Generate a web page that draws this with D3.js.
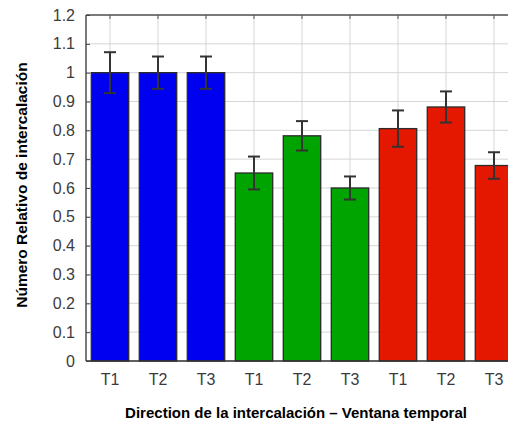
<!DOCTYPE html>
<html>
<head>
<meta charset="utf-8">
<script src="https://cdn.jsdelivr.net/npm/d3@7"></script>
<style>
  body { margin: 0; background: #fff; }
  svg { display: block; }
</style>
</head>
<body>
<script>
// Bar data: three groups (blue, green, red), each with T1..T3
const categories = ["T1", "T2", "T3", "T1", "T2", "T3", "T1", "T2", "T3"];
const values = [1.0, 1.0, 1.0, 0.652, 0.781, 0.600, 0.806, 0.881, 0.678];
const errors = [0.071, 0.056, 0.056, 0.057, 0.051, 0.040, 0.063, 0.054, 0.046];
const groups = [0, 0, 0, 1, 1, 1, 2, 2, 2];
const groupColors = ["#0000f0", "#00a400", "#e41800"];
const yTicks = [0, 0.1, 0.2, 0.3, 0.4, 0.5, 0.6, 0.7, 0.8, 0.9, 1, 1.1, 1.2];

const W = 508, H = 426;
const plotLeft = 86, plotTop = 15, plotBottom = 361;
const step = 48;
const font = "Liberation Sans, Arial, sans-serif";

const svg = d3.select("body").append("svg")
  .attr("width", W)
  .attr("height", H);

// x is position index 1..9, axis spans 0.5..9.5 (cut off on the right)
const x = d3.scaleLinear().domain([0.5, 9.5]).range([plotLeft, plotLeft + 9 * step]);
const y = d3.scaleLinear().domain([0, 1.2]).range([plotBottom, plotTop]);
const barW = 0.78 * step;

const idx = categories.map((c, i) => i + 1);

// grid
svg.append("g")
  .selectAll("line")
  .data(yTicks)
  .enter().append("line")
  .attr("x1", plotLeft).attr("x2", W)
  .attr("y1", d => y(d)).attr("y2", d => y(d))
  .attr("stroke", "#d6d6d6").attr("stroke-width", 1);

svg.append("g")
  .selectAll("line")
  .data(idx)
  .enter().append("line")
  .attr("x1", d => x(d)).attr("x2", d => x(d))
  .attr("y1", plotTop).attr("y2", plotBottom)
  .attr("stroke", "#d6d6d6").attr("stroke-width", 1);

// bars
svg.append("g")
  .selectAll("rect")
  .data(values)
  .enter().append("rect")
  .attr("x", (d, i) => x(i + 1) - barW / 2)
  .attr("y", d => y(d))
  .attr("width", barW)
  .attr("height", d => y(0) - y(d))
  .attr("fill", (d, i) => groupColors[groups[i]])
  .attr("stroke", "#2a2a2a")
  .attr("stroke-width", 1.3);

// error bars
const eb = svg.append("g")
  .attr("stroke", "#333")
  .attr("stroke-width", 2);
values.forEach((v, i) => {
  const cx = x(i + 1);
  eb.append("line")
    .attr("x1", cx).attr("x2", cx)
    .attr("y1", y(v + errors[i])).attr("y2", y(v - errors[i]));
  [v + errors[i], v - errors[i]].forEach(e => {
    eb.append("line")
      .attr("x1", cx - 6).attr("x2", cx + 6)
      .attr("y1", y(e)).attr("y2", y(e));
  });
});

// axes frame
svg.append("line")
  .attr("x1", plotLeft).attr("x2", plotLeft)
  .attr("y1", plotTop).attr("y2", plotBottom)
  .attr("stroke", "#333").attr("stroke-width", 1.3);
svg.append("line")
  .attr("x1", plotLeft).attr("x2", W)
  .attr("y1", plotBottom).attr("y2", plotBottom)
  .attr("stroke", "#333").attr("stroke-width", 1.3);
svg.append("line")
  .attr("x1", plotLeft).attr("x2", W)
  .attr("y1", plotTop).attr("y2", plotTop)
  .attr("stroke", "#555").attr("stroke-width", 1.5);

// y axis ticks (inward) and labels
const yAxis = d3.axisLeft(y)
  .tickValues(yTicks)
  .tickSizeInner(-4)
  .tickSizeOuter(0)
  .tickPadding(11)
  .tickFormat(d => String(+d.toFixed(1)));
const gy = svg.append("g")
  .attr("transform", `translate(${plotLeft},0)`)
  .call(yAxis);
gy.select(".domain").remove();
gy.selectAll("line").attr("stroke", "#444");
gy.selectAll("text")
  .attr("fill", "#3c3c3c")
  .style("font-family", font)
  .style("font-size", "16px");

// x axis labels
svg.append("g")
  .selectAll("text")
  .data(categories)
  .enter().append("text")
  .attr("x", (d, i) => x(i + 1))
  .attr("y", 385)
  .attr("text-anchor", "middle")
  .attr("fill", "#3c3c3c")
  .style("font-family", font)
  .style("font-size", "16px")
  .text(d => d);

// top ticks
svg.append("g")
  .selectAll("line")
  .data(idx)
  .enter().append("line")
  .attr("x1", d => x(d)).attr("x2", d => x(d))
  .attr("y1", plotTop).attr("y2", plotTop + 4)
  .attr("stroke", "#555");

// axis titles
svg.append("text")
  .attr("transform", "translate(27, 185) rotate(-90)")
  .attr("text-anchor", "middle")
  .style("font-family", font)
  .style("font-size", "15.5px")
  .style("font-weight", "bold")
  .text("Número Relativo de intercalación");

svg.append("text")
  .attr("x", 296)
  .attr("y", 418)
  .attr("text-anchor", "middle")
  .style("font-family", font)
  .style("font-size", "15px")
  .style("font-weight", "bold")
  .text("Direction de la intercalación – Ventana temporal");
</script>
</body>
</html>
